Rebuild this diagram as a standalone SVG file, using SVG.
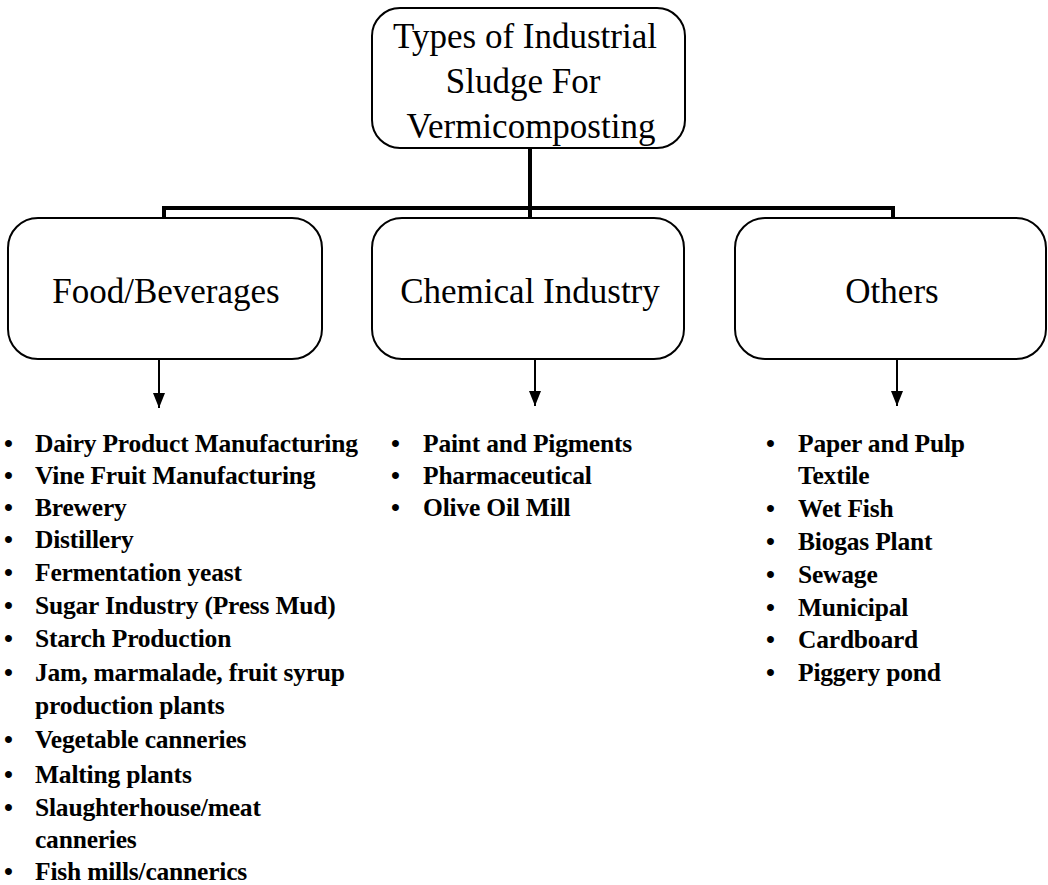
<svg xmlns="http://www.w3.org/2000/svg" width="1048" height="885" viewBox="0 0 1048 885">
<defs>
<marker id="ah" viewBox="0 0 15 12" refX="15" refY="6" markerWidth="15" markerHeight="12" markerUnits="userSpaceOnUse" orient="auto">
<path d="M0,0 L15,6 L0,12 Z" fill="#000"/>
</marker>
</defs>
<style>
.box{fill:#fff;stroke:#000;stroke-width:2}
.lbl{font-family:"Liberation Serif","Times New Roman",serif;font-size:35px;fill:#000;text-anchor:middle}
.li{font-family:"Liberation Serif","Times New Roman",serif;font-size:25.5px;font-weight:bold;fill:#000;letter-spacing:-0.2px}
.thick{stroke:#000;stroke-width:4;fill:none}
.arr{stroke:#000;stroke-width:2;fill:none}
</style>
<rect width="1048" height="885" fill="#fff"/>
<g id="connectors">
<line class="thick" x1="530" y1="148" x2="530" y2="219"/>
<line class="thick" x1="162" y1="208" x2="895" y2="208"/>
<line class="thick" x1="164" y1="206" x2="164" y2="219"/>
<line class="thick" x1="893" y1="206" x2="893" y2="219"/>
<line class="arr" x1="159" y1="359" x2="159" y2="408" marker-end="url(#ah)"/>
<line class="arr" x1="535" y1="359" x2="535" y2="406" marker-end="url(#ah)"/>
<line class="arr" x1="897" y1="359" x2="897" y2="406" marker-end="url(#ah)"/>
</g>
<g id="root">
<rect class="box" x="372" y="8" width="313" height="140" rx="28"/>
<text class="lbl" x="525" y="48">Types of Industrial</text>
<text class="lbl" x="523" y="93">Sludge For</text>
<text class="lbl" x="531" y="138">Vermicomposting</text>
</g>
<g id="food">
<rect class="box" x="8" y="218" width="314" height="141" rx="30"/>
<text class="lbl" x="166" y="303">Food/Beverages</text>
</g>
<g id="chemical">
<rect class="box" x="372" y="218" width="312" height="141" rx="30"/>
<text class="lbl" x="530" y="303">Chemical Industry</text>
</g>
<g id="others">
<rect class="box" x="735" y="218" width="311" height="141" rx="30"/>
<text class="lbl" x="892" y="303">Others</text>
</g>
<g id="food-list">
<text class="li" x="4" y="452">•</text><text class="li" x="35" y="452">Dairy Product Manufacturing</text>
<text class="li" x="4" y="484">•</text><text class="li" x="35" y="484">Vine Fruit Manufacturing</text>
<text class="li" x="4" y="516">•</text><text class="li" x="35" y="516">Brewery</text>
<text class="li" x="4" y="548">•</text><text class="li" x="35" y="548">Distillery</text>
<text class="li" x="4" y="581">•</text><text class="li" x="35" y="581">Fermentation yeast</text>
<text class="li" x="4" y="614">•</text><text class="li" x="35" y="614">Sugar Industry (Press Mud)</text>
<text class="li" x="4" y="647">•</text><text class="li" x="35" y="647">Starch Production</text>
<text class="li" x="4" y="681">•</text><text class="li" x="35" y="681">Jam, marmalade, fruit syrup</text>
<text class="li" x="35" y="714">production plants</text>
<text class="li" x="4" y="748">•</text><text class="li" x="35" y="748">Vegetable canneries</text>
<text class="li" x="4" y="783">•</text><text class="li" x="35" y="783">Malting plants</text>
<text class="li" x="4" y="816">•</text><text class="li" x="35" y="816">Slaughterhouse/meat</text>
<text class="li" x="35" y="848">canneries</text>
<text class="li" x="4" y="880">•</text><text class="li" x="35" y="880">Fish mills/cannerics</text>
</g>
<g id="chemical-list">
<text class="li" x="391" y="452">•</text><text class="li" x="423" y="452">Paint and Pigments</text>
<text class="li" x="391" y="484">•</text><text class="li" x="423" y="484">Pharmaceutical</text>
<text class="li" x="391" y="516">•</text><text class="li" x="423" y="516">Olive Oil Mill</text>
</g>
<g id="others-list">
<text class="li" x="766" y="452">•</text><text class="li" x="798" y="452">Paper and Pulp</text>
<text class="li" x="798" y="484">Textile</text>
<text class="li" x="766" y="517">•</text><text class="li" x="798" y="517">Wet Fish</text>
<text class="li" x="766" y="550">•</text><text class="li" x="798" y="550">Biogas Plant</text>
<text class="li" x="766" y="583">•</text><text class="li" x="798" y="583">Sewage</text>
<text class="li" x="766" y="616">•</text><text class="li" x="798" y="616">Municipal</text>
<text class="li" x="766" y="648">•</text><text class="li" x="798" y="648">Cardboard</text>
<text class="li" x="766" y="681">•</text><text class="li" x="798" y="681">Piggery pond</text>
</g>
</svg>
